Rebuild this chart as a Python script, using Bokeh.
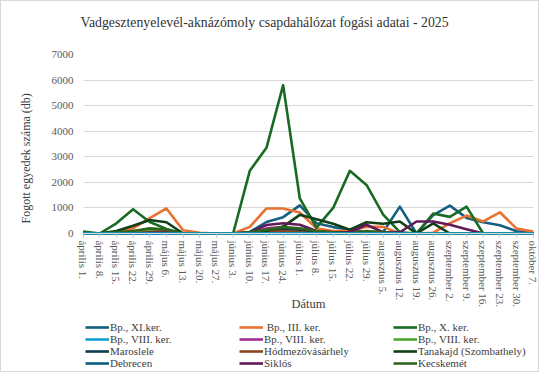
from bokeh.plotting import figure
from bokeh.models import Range1d, FixedTicker, Legend, LegendItem, Title
from bokeh.embed import file_html
from bokeh.resources import INLINE

dates = ["április 1.", "április 8.", "április 15.", "április 22.", "április 29.",
         "május 6.", "május 13.", "május 20.", "május 27.", "június 3.",
         "június 10.", "június 17.", "június 24.", "július 1.", "július 8.",
         "július 15.", "július 22.", "július 29.", "augusztus 5.", "augusztus 12.",
         "augusztus 19.", "augusztus 26.", "szeptember 2.", "szeptember 9.",
         "szeptember 16.", "szeptember 23.", "szeptember 30.", "október 7."]
y_ticks = [0, 1000, 2000, 3000, 4000, 5000, 6000, 7000]

bp_xi = [0, 0, 0, 0, 50, 120, 0, 0, 0, 0, 60, 450, 640, 1100, 400, 250, 150, 60, 60, 1050, 0, 720, 1090, 610, 440, 320, 90, 30]
bp_iii = [0, 0, 50, 200, 600, 980, 130, 30, 0, 0, 260, 980, 980, 820, 200, 100, 100, 260, 260, 0, 0, 30, 400, 700, 470, 830, 190, 80]
bp_x = [80, 0, 400, 950, 450, 180, 0, 0, 0, 0, 2450, 3350, 5800, 1370, 230, 1000, 2450, 1900, 740, 50, 0, 780, 650, 1050, 0, 0, 0, 0]
bp_viii_a = [0] * 28
bp_viii_b = [0, 0, 0, 0, 20, 30, 0, 0, 0, 0, 30, 200, 250, 150, 0, 0, 0, 0, 0, 0, 0, 0, 0, 0, 0, 0, 0, 0]
bp_viii_c = [0, 0, 0, 50, 120, 100, 0, 0, 0, 0, 0, 50, 120, 80, 0, 0, 0, 0, 0, 0, 0, 0, 0, 0, 0, 0, 0, 0]
maroslele = [0, 0, 0, 0, 0, 50, 0, 0, 0, 0, 0, 100, 200, 150, 50, 0, 0, 0, 0, 0, 0, 0, 0, 0, 0, 0, 0, 0]
hodmezo = [0, 0, 0, 0, 50, 80, 0, 0, 0, 0, 0, 50, 100, 50, 0, 0, 0, 0, 0, 0, 0, 0, 0, 0, 0, 0, 0, 0]
tanakajd = [0, 0, 100, 300, 530, 440, 0, 0, 0, 0, 0, 100, 270, 730, 560, 380, 150, 440, 380, 470, 0, 400, 0, 0, 0, 0, 0, 0]
debrecen = [0] * 28
siklos = [0, 0, 0, 0, 30, 30, 0, 0, 0, 0, 50, 330, 400, 340, 100, 50, 50, 340, 50, 50, 470, 470, 340, 170, 0, 0, 0, 0]
kecskemet = [0, 0, 50, 100, 200, 150, 0, 0, 0, 0, 50, 150, 250, 200, 100, 50, 0, 100, 50, 0, 0, 0, 0, 0, 0, 0, 0, 0]

series = [
    ("Bp., XI.ker.", bp_xi, "#156082"),
    (" Bp., III. ker.", bp_iii, "#E97132"),
    ("Bp., X. ker.", bp_x, "#196B24"),
    ("Bp., VIII. ker.", bp_viii_a, "#0F9ED5"),
    ("Bp., VIII. ker.", bp_viii_b, "#A02B93"),
    ("Bp., VIII. ker.", bp_viii_c, "#4EA72E"),
    ("Maroslele", maroslele, "#0d3a4e"),
    ("Hódmezővásárhely", hodmezo, "#8c441e"),
    ("Tanakajd (Szombathely)", tanakajd, "#0f4016"),
    ("Debrecen", debrecen, "#095f80"),
    ("Siklós", siklos, "#601a58"),
    ("Kecskemét", kecskemet, "#2f641c"),
]

SERIF = "Liberation Serif"

# pixel layout: the frame runs down to the canvas bottom; values occupy the
# upper part (TOP..ZERO_PX), tick labels and legend sit in the lower part.
W, H = 539, 372
TOP, ZERO_PX = 53, 232
LEFT, RIGHT = 72, 538          # frame edges
X0_PX, XN_PX = 78.6, 531.7     # first / last category position
n = len(dates)
ppu = (XN_PX - X0_PX) / (n - 1)
x_start = -(X0_PX - LEFT) / ppu
x_end = (n - 1) + (RIGHT - XN_PX) / ppu
ymax = y_ticks[-1]
ymin = -ymax * (H - ZERO_PX) / (ZERO_PX - TOP)

p = figure(width=W, height=H, output_backend="svg", toolbar_location=None,
           x_range=Range1d(x_start, x_end), y_range=Range1d(ymin, ymax),
           min_border_left=LEFT, min_border_right=W - RIGHT,
           min_border_top=TOP, min_border_bottom=0)
p.styles = {"border": "1px solid #d9d9d9"}

p.title.text = ""
p.title.visible = False
# spacer next to the frame, then the chart title above it
p.add_layout(Title(text=" ", text_font_size="1px", standoff=22), "above")
p.add_layout(Title(text="Vadgesztenyelevél-aknázómoly csapdahálózat fogási adatai - 2025",
                   align="left", offset=4, standoff=0, text_font=SERIF,
                   text_font_size="13.8px", text_font_style="normal",
                   text_color="#333333"), "above")

p.outline_line_color = None
p.xgrid.grid_line_color = None
p.ygrid.grid_line_color = "#d9d9d9"
p.ygrid.grid_line_width = 1
g = p.ygrid[0]
if "cross_bounds" in g.properties():
    g.cross_bounds = (0, n - 1)

x = list(range(n))

order = [0, 1, 2, 4, 5, 6, 7, 8, 9, 10, 11, 3]
rmap = {}
for i in order:
    name, vals, col = series[i]
    rmap[i] = p.line(x, vals, line_color=col, line_width=2.6, line_join="round")

# category axis fixed at value 0
p.xaxis.fixed_location = 0
p.xaxis.bounds = (0, n - 1)
p.xaxis.ticker = FixedTicker(ticks=x)
p.xaxis.major_label_overrides = {i: d for i, d in enumerate(dates)}
p.xaxis.major_label_orientation = "vertical"
p.xaxis.major_label_text_font = SERIF
p.xaxis.major_label_text_font_size = "11px"
p.xaxis.major_label_text_color = "#595959"
p.xaxis.major_tick_out = 4
p.xaxis.major_tick_in = 0
p.xaxis.major_tick_line_color = "#bfbfbf"
p.xaxis.minor_tick_line_color = None
p.xaxis.axis_line_color = "#d9d9d9"
p.xaxis.major_label_standoff = 3
p.xaxis.axis_label = "Dátum"
p.xaxis.axis_label_text_font = SERIF
p.xaxis.axis_label_text_font_size = "12.5px"
p.xaxis.axis_label_text_font_style = "normal"
p.xaxis.axis_label_text_color = "#404040"
p.xaxis.axis_label_standoff = -13

p.yaxis.ticker = FixedTicker(ticks=y_ticks)
p.yaxis.bounds = (0, ymax)
p.yaxis.major_label_text_font = SERIF
p.yaxis.major_label_text_font_size = "11px"
p.yaxis.major_label_text_color = "#595959"
p.yaxis.major_tick_out = 0
p.yaxis.major_tick_in = 0
p.yaxis.major_tick_line_color = None
p.yaxis.minor_tick_line_color = None
p.yaxis.axis_line_color = None
p.yaxis.major_label_standoff = 3

# value-axis title, placed beside the value part of the frame
p.add_layout(Title(text="Fogott egyedek száma (db)", align="left", offset=H - 222,
                   standoff=31, text_font=SERIF, text_font_size="12px",
                   text_font_style="normal", text_color="#404040"), "left")

items = [LegendItem(label=s[0], renderers=[rmap[i]]) for i, s in enumerate(series)]
lg = Legend(items=items, location=(9, 4), orientation="horizontal", ncols=3,
            padding=0, margin=0, spacing=0, glyph_width=24, glyph_height=12,
            label_height=12, label_width=129, label_standoff=1, label_text_font=SERIF,
            label_text_font_size="11px", label_text_color="#404040",
            border_line_color=None, background_fill_alpha=0)
p.add_layout(lg, "center")

open("out.html", "w").write(file_html(p, INLINE))
